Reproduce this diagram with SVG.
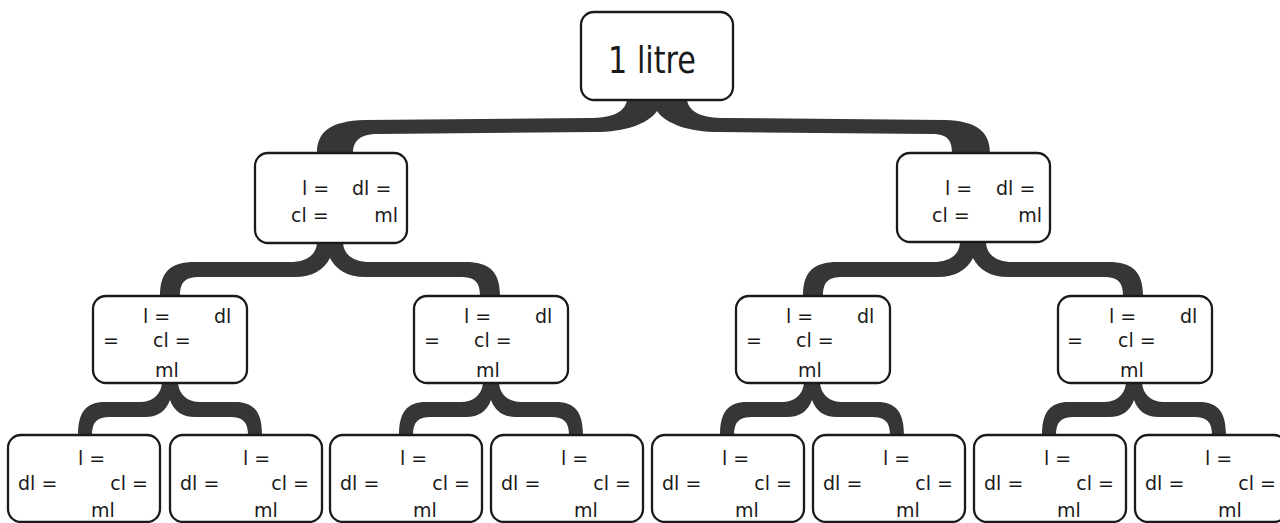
<svg xmlns="http://www.w3.org/2000/svg" width="1280" height="523" viewBox="0 0 1280 523">
<style>
.box{fill:#fff;stroke:#1a1a1a;stroke-width:2.3}
.con{fill:#363636;stroke:none}
text{font-family:"DejaVu Sans","Liberation Sans",sans-serif;font-size:19px;fill:#1a1a1a}
.big{font-size:38px}
.e{text-anchor:end}
</style>
<defs>
<path id="b1" class="con" d="M317 243 C316 256 305 262 290 262 L195 262 C170 262 160 272 160 296 L180 296 C180 282 185 277 200 277 L295 277 C312 277 324 270 330 258 C336 270 348 277 365 277 L460 277 C475 277 480 282 480 296 L500 296 C500 272 490 262 465 262 L370 262 C355 262 344 256 343 243 Z"/>
<path id="b2" class="con" d="M162 383 C161 395 152 402 140 402 L105 402 C86 402 78 412 78 435 L92 435 C92 422 97 417 110 417 L145 417 C158 417 166 411 170 400 C174 411 182 417 195 417 L230 417 C243 417 248 422 248 435 L262 435 C262 412 254 402 235 402 L200 402 C188 402 179 395 178 383 Z"/>
</defs>
<rect width="1280" height="523" fill="#fff"/>
<g id="connectors">
<path class="con" d="M627 100 C625 113 610 118 590 118 L365 120 C330 121 317 132 317 153 L353 153 C353 141 360 134 378 134 L595 132 C625 132 648 124 657 111 C666 124 689 132 719 132 L932 134 C948 134 952 141 952 153 L990 153 C990 132 977 121 945 120 L724 118 C704 118 689 113 687 100 Z"/>
<use href="#b1"/>
<use href="#b1" transform="translate(643,0)"/>
<use href="#b2"/>
<use href="#b2" transform="translate(321,0)"/>
<use href="#b2" transform="translate(642,0)"/>
<use href="#b2" transform="translate(964,0)"/>
</g>
<g id="n0"><rect class="box" x="581" y="12" width="152" height="88" rx="13"/><text class="big" x="652" y="73" text-anchor="middle" textLength="88" lengthAdjust="spacingAndGlyphs">1 litre</text></g>

<g id="n1"><rect class="box" x="255" y="153" width="152" height="90" rx="13"/>
<text x="302" y="195">l =</text><text x="352" y="195">dl =</text><text x="291" y="222">cl =</text><text class="e" x="398" y="222">ml</text></g>
<g id="n2"><rect class="box" x="897" y="153" width="153" height="89" rx="13"/>
<text x="945" y="195">l =</text><text x="996" y="195">dl =</text><text x="932" y="222">cl =</text><text class="e" x="1042" y="222">ml</text></g>

<g id="n3"><rect class="box" x="93" y="296" width="154" height="87" rx="13"/>
<text x="143" y="323">l =</text><text x="214" y="323">dl</text><text x="103" y="347">=</text><text x="153" y="347">cl =</text><text x="155" y="377">ml</text></g>
<g id="n4"><rect class="box" x="414" y="296" width="154" height="87" rx="13"/>
<text x="464" y="323">l =</text><text x="535" y="323">dl</text><text x="424" y="347">=</text><text x="474" y="347">cl =</text><text x="476" y="377">ml</text></g>
<g id="n5"><rect class="box" x="736" y="296" width="154" height="87" rx="13"/>
<text x="786" y="323">l =</text><text x="857" y="323">dl</text><text x="746" y="347">=</text><text x="796" y="347">cl =</text><text x="798" y="377">ml</text></g>
<g id="n6"><rect class="box" x="1058" y="296" width="154" height="87" rx="13"/>
<text x="1109" y="323">l =</text><text x="1180" y="323">dl</text><text x="1067" y="347">=</text><text x="1118" y="347">cl =</text><text x="1120" y="377">ml</text></g>

<g id="n7"><rect class="box" x="8" y="435" width="152" height="87" rx="13"/>
<text x="78" y="465">l =</text><text x="18" y="490">dl =</text><text class="e" x="148" y="490">cl =</text><text x="91" y="517">ml</text></g>
<g id="n8"><rect class="box" x="170" y="435" width="152" height="87" rx="13"/>
<text x="243" y="465">l =</text><text x="180" y="490">dl =</text><text class="e" x="309" y="490">cl =</text><text x="254" y="517">ml</text></g>
<g id="n9"><rect class="box" x="330" y="435" width="152" height="87" rx="13"/>
<text x="400" y="465">l =</text><text x="340" y="490">dl =</text><text class="e" x="470" y="490">cl =</text><text x="413" y="517">ml</text></g>
<g id="n10"><rect class="box" x="491" y="435" width="152" height="87" rx="13"/>
<text x="561" y="465">l =</text><text x="501" y="490">dl =</text><text class="e" x="631" y="490">cl =</text><text x="574" y="517">ml</text></g>
<g id="n11"><rect class="box" x="652" y="435" width="152" height="87" rx="13"/>
<text x="722" y="465">l =</text><text x="662" y="490">dl =</text><text class="e" x="792" y="490">cl =</text><text x="735" y="517">ml</text></g>
<g id="n12"><rect class="box" x="813" y="435" width="152" height="87" rx="13"/>
<text x="883" y="465">l =</text><text x="823" y="490">dl =</text><text class="e" x="953" y="490">cl =</text><text x="896" y="517">ml</text></g>
<g id="n13"><rect class="box" x="974" y="435" width="152" height="87" rx="13"/>
<text x="1044" y="465">l =</text><text x="984" y="490">dl =</text><text class="e" x="1114" y="490">cl =</text><text x="1057" y="517">ml</text></g>
<g id="n14"><rect class="box" x="1135" y="435" width="152" height="87" rx="13"/>
<text x="1205" y="465">l =</text><text x="1145" y="490">dl =</text><text class="e" x="1276" y="490">cl =</text><text x="1218" y="517">ml</text></g>
</svg>
